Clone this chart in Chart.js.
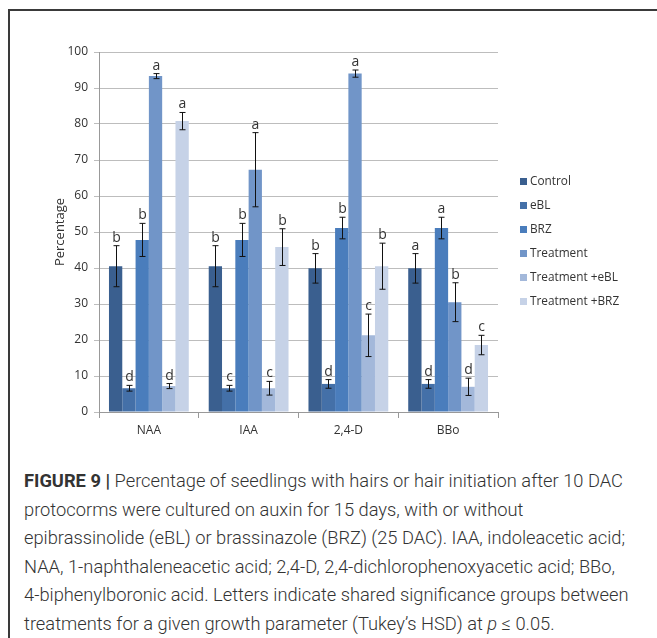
<!DOCTYPE html>
<html>
<head>
<meta charset="utf-8">
<script src="https://cdn.jsdelivr.net/npm/chart.js@4/dist/chart.umd.min.js"></script>
<style>
    body { margin: 0; background: #fff; width: 657px; height: 638px; overflow: hidden; position: relative; }
    #frame { position: absolute; left: 8px; top: 9px; width: 700px; height: 700px;
             border-top: 2px solid #3a3a3a; border-left: 2px solid #3a3a3a; }
    #chart { position: absolute; left: 0; top: 0; }
    #caption { position: absolute; left: 24px; top: 467px; white-space: nowrap;
               font-family: Roboto, "Liberation Sans", sans-serif; font-weight: 300;
               font-size: 18.3px; line-height: 28.6px; color: #333; }
    #caption b { font-weight: 700; }
</style>
</head>
<body>
<div id="frame"></div>
<canvas id="chart" width="657" height="455"></canvas>
<div id="caption"><b>FIGURE 9 |</b> Percentage of seedlings with hairs or hair initiation after 10 DAC<br>protocorms were cultured on auxin for 15 days, with or without<br>epibrassinolide (eBL) or brassinazole (BRZ) (25 DAC). IAA, indoleacetic acid;<br>NAA, 1-naphthaleneacetic acid; 2,4-D, 2,4-dichlorophenoxyacetic acid; BBo,<br>4-biphenylboronic acid. Letters indicate shared significance groups between<br>treatments for a given growth parameter (Tukey’s HSD) at <i>p</i> ≤ 0.05.</div>
<script>
// categories and series
const categories = ['NAA', 'IAA', '2,4-D', 'BBo'];
const seriesNames = ['Control', 'eBL', 'BRZ', 'Treatment', 'Treatment +eBL', 'Treatment +BRZ'];
const seriesColors = ['#3a5f8f', '#4470a8', '#4a7dbc', '#7195c8', '#a3b8da', '#c6d2e7'];

const control      = [40.5, 40.5, 39.9, 39.9];
const ebl          = [6.6, 6.6, 7.8, 7.8];
const brz          = [47.8, 47.8, 51.1, 51.1];
const treatment    = [93.3, 67.3, 94.0, 30.5];
const treatmentEbl = [7.2, 6.6, 21.3, 7.0];
const treatmentBrz = [80.8, 45.8, 40.5, 18.6];

// error half-widths
const controlErr      = [5.7, 5.7, 4.1, 4.1];
const eblErr          = [0.8, 0.8, 1.2, 1.2];
const brzErr          = [4.6, 4.6, 3.0, 3.0];
const treatmentErr    = [0.7, 10.3, 1.0, 5.4];
const treatmentEblErr = [0.7, 1.9, 5.9, 2.4];
const treatmentBrzErr = [2.4, 5.1, 6.4, 2.7];

// significance letters
const controlLetters      = ['b', 'b', 'b', 'a'];
const eblLetters          = ['d', 'c', 'd', 'd'];
const brzLetters          = ['b', 'b', 'b', 'a'];
const treatmentLetters    = ['a', 'a', 'a', 'b'];
const treatmentEblLetters = ['d', 'c', 'c', 'd'];
const treatmentBrzLetters = ['a', 'b', 'b', 'c'];

const yTicks = [0, 10, 20, 30, 40, 50, 60, 70, 80, 90, 100];

const values  = [control, ebl, brz, treatment, treatmentEbl, treatmentBrz];
const errors  = [controlErr, eblErr, brzErr, treatmentErr, treatmentEblErr, treatmentBrzErr];
const letters = [controlLetters, eblLetters, brzLetters, treatmentLetters, treatmentEblLetters, treatmentBrzLetters];

const font = '"Open Sans", "Liberation Sans", sans-serif';

const errorBars = {
    id: 'errorBars',
    afterDatasetsDraw(chart) {
        const ctx = chart.ctx;
        const y = chart.scales.y;
        ctx.save();
        ctx.strokeStyle = '#111';
        ctx.lineWidth = 1;
        ctx.fillStyle = '#333';
        ctx.font = '14px ' + font;
        ctx.textAlign = 'center';
        ctx.textBaseline = 'alphabetic';
        chart.data.datasets.forEach((ds, i) => {
            chart.getDatasetMeta(i).data.forEach((bar, j) => {
                const x = Math.round(bar.x) + 0.5;
                const hi = y.getPixelForValue(ds.data[j] + errors[i][j]);
                const lo = y.getPixelForValue(ds.data[j] - errors[i][j]);
                ctx.beginPath();
                ctx.moveTo(x, hi); ctx.lineTo(x, lo);
                ctx.moveTo(x - 3, hi); ctx.lineTo(x + 3, hi);
                ctx.moveTo(x - 3, lo); ctx.lineTo(x + 3, lo);
                ctx.stroke();
                ctx.fillText(letters[i][j], x, hi - 4);
            });
        });
        ctx.restore();
    }
};

const sideLegend = {
    id: 'sideLegend',
    afterDraw(chart) {
        const ctx = chart.ctx;
        ctx.save();
        ctx.font = '11.8px ' + font;
        ctx.textBaseline = 'middle';
        chart.data.datasets.forEach((ds, i) => {
            const cy = 181.5 + i * 24;
            ctx.fillStyle = ds.backgroundColor;
            ctx.fillRect(520, cy - 3.5, 7, 7);
            ctx.fillStyle = '#333';
            ctx.fillText(ds.label, 530, cy);
        });
        ctx.restore();
    }
};

new Chart(document.getElementById('chart'), {
    type: 'bar',
    data: {
        labels: categories,
        datasets: seriesNames.map((name, i) => ({
            label: name,
            data: values[i],
            backgroundColor: seriesColors[i],
            borderWidth: 0,
            categoryPercentage: 0.8,
            barPercentage: 1.0
        }))
    },
    options: {
        responsive: false,
        animation: false,
        devicePixelRatio: 1,
        layout: { padding: { left: 40, right: 159, top: 52, bottom: 3 } },
        plugins: { legend: { display: false }, tooltip: { enabled: false } },
        scales: {
            x: {
                afterFit: s => { s.height = 40; },
                grid: { drawOnChartArea: false, drawTicks: true, tickLength: 6, color: '#999', offset: true },
                border: { color: '#999' },
                ticks: { color: '#333', font: { family: font, size: 12 }, padding: 5 }
            },
            y: {
                min: 0,
                max: 100,
                afterFit: s => { s.width = 59; },
                afterBuildTicks: s => { s.ticks = yTicks.map(v => ({ value: v })); },
                grid: { color: '#bdbdbd', tickLength: 5 },
                border: { color: '#999' },
                ticks: { color: '#333', font: { family: font, size: 12 }, padding: 6 },
                title: { display: true, text: 'Percentage', color: '#333',
                         font: { family: font, size: 13 }, padding: { top: 12, bottom: 0 } }
            }
        }
    },
    plugins: [errorBars, sideLegend]
});
</script>
</body>
</html>
